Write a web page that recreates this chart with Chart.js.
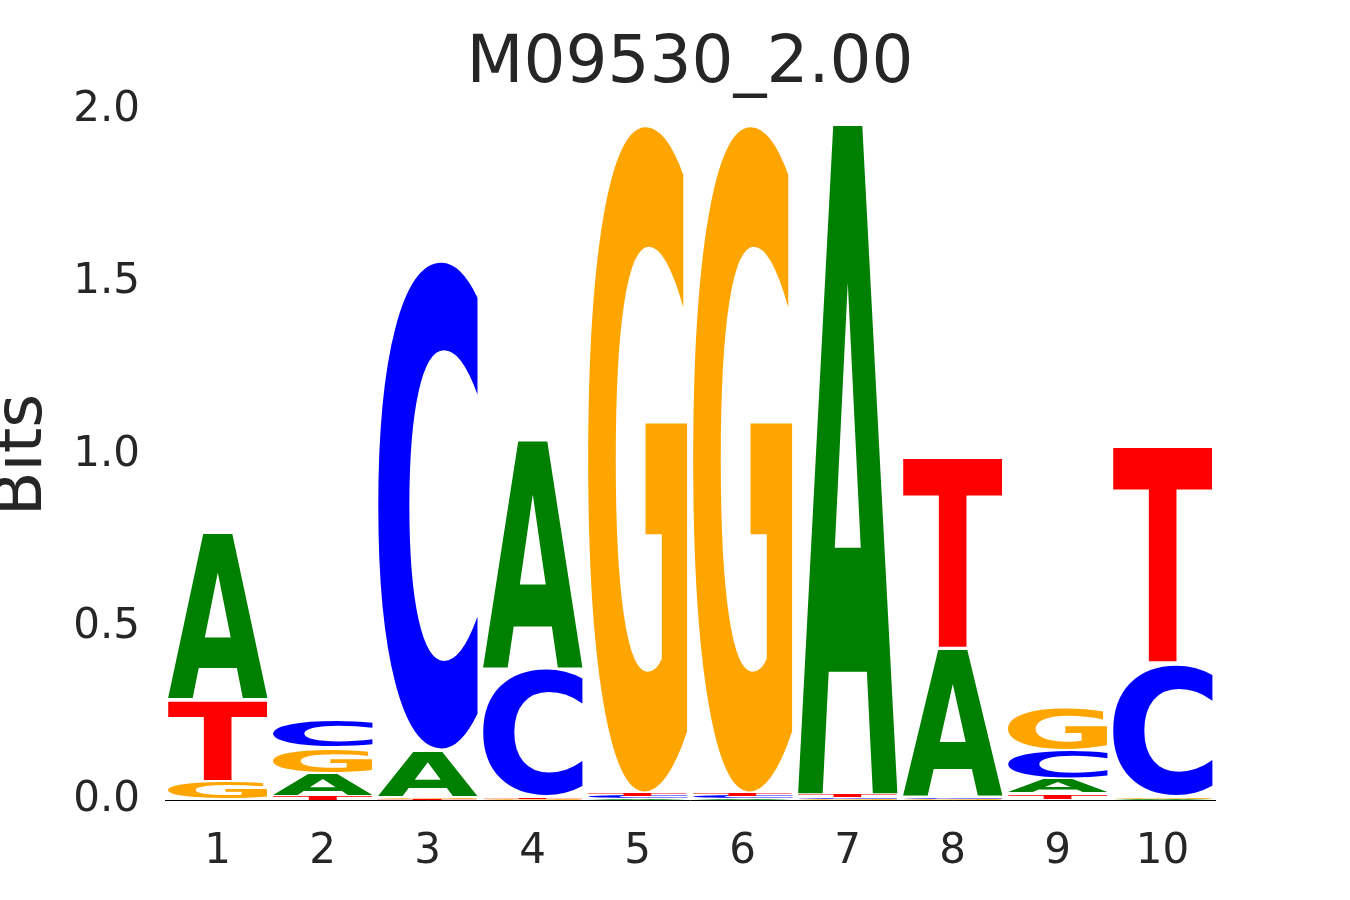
<!DOCTYPE html>
<html>
<head>
<meta charset="utf-8">
<script src="https://cdn.jsdelivr.net/npm/chart.js@4.4.1/dist/chart.umd.min.js"></script>
<style>
html,body{margin:0;padding:0;background:#ffffff;}
#wrap{width:1350px;height:900px;position:relative;}
</style>
</head>
<body>
<div id="wrap"><canvas id="logo"></canvas></div>
<script>
// ---- data (bits per letter at each position) ----
const positions = ['1','2','3','4','5','6','7','8','9','10'];
const letters = ['A','C','G','T'];
const letterColors = ['#008000','#0000ff','#ffa500','#ff0000'];
const bitsA = [0.484, 0.067, 0.137, 0.664, 0.005, 0.005, 1.944, 0.430, 0.043, 0.004];
const bitsC = [0.000, 0.081, 1.422, 0.372, 0.007, 0.007, 0.005, 0.004, 0.084, 0.386];
const bitsG = [0.054, 0.074, 0.004, 0.003, 1.942, 1.942, 0.004, 0.003, 0.126, 0.004];
const bitsT = [0.237, 0.010, 0.003, 0.005, 0.007, 0.007, 0.007, 0.556, 0.019, 0.631];
const yTickValues = [0, 0.5, 1.0, 1.5, 2.0];
const chartTitle = 'M09530_2.00';
const yAxisTitle = 'Bits';

// ---- build floating [low, high] stacks: smallest letter at the bottom ----
const bitsByLetter = [bitsA, bitsC, bitsG, bitsT];
const floating = letters.map(() => []);
positions.forEach((p, i) => {
  const order = letters.map((l, k) => k).sort((a, b) => bitsByLetter[a][i] - bitsByLetter[b][i]);
  let base = 0;
  order.forEach(k => {
    const h = bitsByLetter[k][i];
    floating[k][i] = [base, base + h];
    base += h;
  });
});

const TEXT = '#262626';
const FONT = "'DejaVu Sans', sans-serif";

// plugin: draw each letter stretched into its bar rectangle
const glyphPlugin = {
  id: 'glyphs',
  afterDatasetsDraw(chart) {
    const ctx = chart.ctx;
    chart.data.datasets.forEach((ds, d) => {
      const meta = chart.getDatasetMeta(d);
      meta.data.forEach((el, i) => {
        const v = ds.data[i];
        if (!v || v[1] - v[0] <= 0) return;
        const p = el.getProps(['x', 'y', 'base', 'width'], true);
        let top = Math.min(p.y, p.base), bottom = Math.max(p.y, p.base);
        let h = bottom - top;
        if (h > 5) { top += 1.3; bottom -= 1.3; h = bottom - top; }
        if (h < 1) { top = bottom - 1; h = 1; }
        const left = p.x - p.width / 2;
        ctx.save();
        ctx.font = "bold 200px " + FONT;
        ctx.textAlign = 'left';
        ctx.textBaseline = 'alphabetic';
        const m = ctx.measureText(ds.glyph);
        const gw = m.actualBoundingBoxLeft + m.actualBoundingBoxRight;
        const gh = m.actualBoundingBoxAscent + m.actualBoundingBoxDescent;
        ctx.translate(left, top);
        ctx.scale(p.width / gw, h / gh);
        ctx.fillStyle = ds.glyphColor;
        ctx.fillText(ds.glyph, m.actualBoundingBoxLeft, m.actualBoundingBoxAscent);
        ctx.restore();
      });
    });
  }
};

new Chart(document.getElementById('logo'), {
  type: 'bar',
  data: {
    labels: positions,
    datasets: letters.map((l, k) => ({
      label: l,
      glyph: l,
      glyphColor: letterColors[k],
      data: floating[k],
      backgroundColor: 'rgba(0,0,0,0)',
      borderWidth: 0,
      grouped: false,
      categoryPercentage: 1.0,
      barPercentage: 100 / 105
    }))
  },
  options: {
    responsive: true,
    maintainAspectRatio: false,
    animation: false,
    layout: { padding: { left: 0, right: 135, top: 0, bottom: 0 } },
    plugins: {
      legend: { display: false },
      tooltip: { enabled: false },
      title: {
        display: true,
        fullSize: false,
        text: chartTitle,
        color: TEXT,
        font: { family: FONT, size: 66, weight: 'normal', lineHeight: 1.2 },
        padding: { top: 25.4, bottom: 5.4 }
      }
    },
    scales: {
      x: {
        type: 'category',
        offset: true,
        grid: { display: false, drawTicks: false },
        border: { display: true, color: '#000000', width: 1 },
        ticks: { color: TEXT, font: { family: FONT, size: 42 }, padding: 27 },
        afterFit: s => { s.height = 100; }
      },
      y: {
        min: 0,
        max: 2,
        afterBuildTicks: s => { s.ticks = yTickValues.map(v => ({ value: v })); },
        grid: { display: false, drawTicks: false },
        border: { display: false },
        ticks: { color: TEXT, font: { family: FONT, size: 42 }, padding: 25,
                 callback: v => Number(v).toFixed(1) },
        title: { display: true, text: yAxisTitle, color: TEXT,
                 font: { family: FONT, size: 65, lineHeight: 0.74 }, padding: 0 },
        afterFit: s => { s.width = 165; }
      }
    }
  },
  plugins: [glyphPlugin]
});
</script>
</body>
</html>
